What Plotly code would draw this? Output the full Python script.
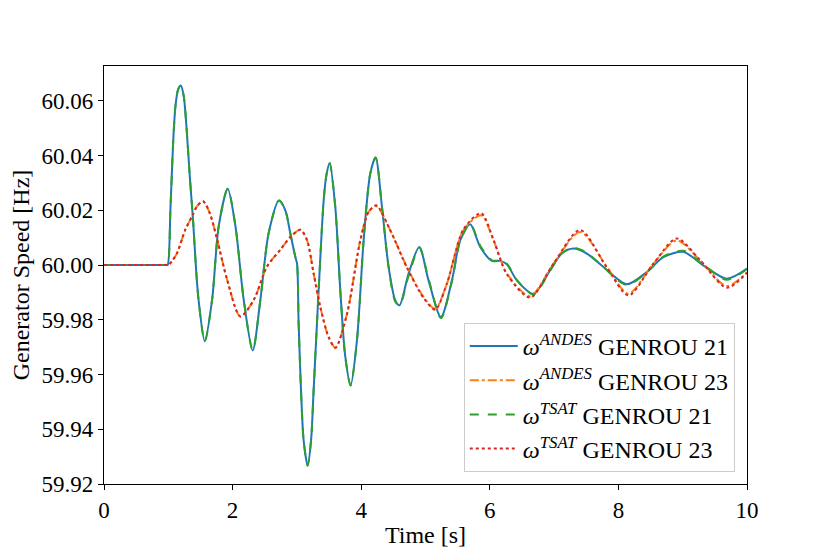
import plotly.graph_objects as go

# ---- data ----
t_gen21 = [0.0, 0.5, 0.9, 0.97, 0.99, 1.033, 1.075, 1.111, 1.153, 1.195, 1.24, 1.282, 1.334,
           1.386, 1.433, 1.474, 1.567, 1.681, 1.784, 1.924, 2.044, 2.173, 2.313, 2.432, 2.561,
           2.722, 2.82, 2.898, 2.976, 3.002, 3.027, 3.064, 3.105, 3.167, 3.22, 3.26, 3.338,
           3.416, 3.46, 3.509, 3.597, 3.675, 3.753, 3.835, 3.934, 4.038, 4.141, 4.224, 4.323,
           4.426, 4.53, 4.597, 4.737, 4.903, 5.047, 5.24, 5.411, 5.54, 5.695, 5.851, 6.033,
           6.162, 6.266, 6.42, 6.68, 6.939, 7.12, 7.30, 7.509, 7.767, 8.13, 8.44, 8.7, 9.01,
           9.32, 9.685, 10.0]
w_andes21 = [60.0, 60.0, 60.0, 60.0, 60.0, 60.0203, 60.0446, 60.058, 60.0642, 60.0656, 60.0617,
             60.0507, 60.0324, 60.016, 59.998, 59.9865, 59.9721, 59.9873, 60.0142, 60.0279,
             60.0142, 59.9873, 59.9688, 59.9873, 60.0117, 60.0236, 60.02, 60.0115, 60.0029,
             60.0005, 59.9786, 59.9542, 59.9359, 59.9267, 59.9359, 59.9542, 59.9907, 60.0235,
             60.033, 60.0373, 60.0212, 59.9907, 59.9664, 59.956, 59.9725, 60.009, 60.0334,
             60.0393, 60.0212, 59.9993, 59.9871, 59.9853, 59.9969, 60.0066, 59.9944, 59.981,
             59.9944, 60.009, 60.0149, 60.0066, 60.0015, 60.0015, 60.0003, 59.9944, 59.9895,
             59.9981, 60.0042, 60.006, 60.0042, 59.9993, 59.993, 59.9974, 60.0029, 60.0048,
             59.9999, 59.995, 59.9987]
w_tsat21 = [60.0, 60.0, 60.0, 60.0, 60.0, 60.0203, 60.0446, 60.058, 60.0642, 60.0656, 60.0617,
            60.0507, 60.0324, 60.016, 59.998, 59.9865, 59.9721, 59.9873, 60.0142, 60.0279,
            60.0142, 59.9873, 59.9688, 59.9873, 60.0117, 60.0236, 60.02, 60.0115, 60.0029,
            60.0005, 59.9786, 59.9542, 59.9359, 59.9267, 59.9359, 59.9542, 59.9907, 60.0235,
            60.033, 60.0373, 60.0212, 59.9907, 59.9664, 59.956, 59.9725, 60.009, 60.0334,
            60.0393, 60.0212, 59.9993, 59.9866, 59.9853, 59.9960, 60.0064, 59.9950, 59.9806,
            59.9940, 60.0088, 60.0151, 60.0070, 60.0017, 60.0016, 60.0004, 59.9946, 59.9892,
            59.9980, 60.0043, 60.0063, 60.0045, 59.9992, 59.9927, 59.9973, 60.0031, 60.0052,
            60.0001, 59.9946, 59.9985]

t_gen23 = [0.0, 0.5, 0.9, 0.97, 1.0, 1.06, 1.137, 1.266, 1.37, 1.448, 1.541, 1.644, 1.76,
           1.914, 2.121, 2.33, 2.536, 2.743, 2.898, 3.054, 3.158, 3.26, 3.364, 3.493, 3.6,
           3.78, 3.986, 4.115, 4.235, 4.452, 4.71, 4.97, 5.152, 5.333, 5.59, 5.866, 6.058,
           6.266, 6.628, 6.99, 7.405, 7.82, 8.156, 8.544, 8.907, 9.27, 9.685, 10.0]
w_andes23 = [60.0, 60.0, 60.0, 60.0, 60.0, 60.0015, 60.0044, 60.013, 60.0178, 60.0215, 60.0233,
             60.019, 60.0093, 59.9947, 59.9812, 59.9873, 59.9995, 60.0056, 60.0102, 60.0129,
             60.009, 59.9969, 59.9846, 59.9737, 59.9698, 59.9822, 60.009, 60.0194, 60.0215,
             60.0127, 59.9993, 59.9883, 59.984, 59.9932, 60.0127, 60.0182, 60.009, 59.9969,
             59.9886, 60.0005, 60.0121, 59.9993, 59.9895, 60.0005, 60.009, 60.0017, 59.9923,
             59.9974]
w_tsat23 = [60.0, 60.0, 60.0, 60.0, 60.0, 60.0015, 60.0044, 60.013, 60.0178, 60.0215, 60.0233,
            60.019, 60.0093, 59.9947, 59.9812, 59.9873, 59.9995, 60.0056, 60.0102, 60.0129,
            60.009, 59.9969, 59.9846, 59.9737, 59.9698, 59.9822, 60.009, 60.0194, 60.0218,
            60.0127, 59.9991, 59.9880, 59.9837, 59.9932, 60.0130, 60.0189, 60.0092, 59.9966,
            59.9881, 60.0005, 60.0128, 59.9991, 59.9889, 60.0005, 60.0097, 60.0018, 59.9917,
            59.9972]

series_names = ["<i>ω</i><sup><i>ANDES</i></sup> GENROU 21",
                "<i>ω</i><sup><i>ANDES</i></sup> GENROU 23",
                "<i>ω</i><sup><i>TSAT</i></sup> GENROU 21",
                "<i>ω</i><sup><i>TSAT</i></sup> GENROU 23"]

x_ticks = [0, 2, 4, 6, 8, 10]
y_ticks = [59.92, 59.94, 59.96, 59.98, 60.00, 60.02, 60.04, 60.06]

FONT = "Liberation Serif"

series = [
    (t_gen21, w_andes21, series_names[0], "#1f77b4", "solid"),
    (t_gen23, w_andes23, series_names[1], "#ff7f0e", "dashdot"),
    (t_gen21, w_tsat21, series_names[2], "#2ca02c", "dash"),
    (t_gen23, w_tsat23, series_names[3], "#d62728", "dot"),
]

fig = go.Figure()
for t, w, name, color, dash in series:
    fig.add_trace(go.Scatter(x=t, y=w, mode="lines", name=name,
                             line=dict(color=color, width=2, dash=dash,
                                       shape="spline", smoothing=0.8)))

axis_common = dict(showline=True, linecolor="black", linewidth=1.2, mirror=True,
                   ticks="outside", ticklen=5, tickwidth=1.2, tickcolor="black",
                   showgrid=False, zeroline=False, automargin=False,
                   tickfont=dict(family=FONT, size=23, color="black"))

fig.update_xaxes(range=[0, 10], tickvals=x_ticks, ticktext=[str(v) for v in x_ticks],
                 title=dict(text="Time [s]", font=dict(family=FONT, size=24, color="black"),
                            standoff=4),
                 **axis_common)
fig.update_yaxes(range=[59.92, 60.0727], tickvals=y_ticks,
                 ticktext=[f"{v:.2f}" for v in y_ticks],
                 title=dict(text="Generator Speed [Hz]",
                            font=dict(family=FONT, size=24, color="black"), standoff=8),
                 **axis_common)

# the page body adds an 8px offset, so the figure is 8px smaller and margins shifted
fig.update_layout(
    width=822, height=546,
    margin=dict(l=96, r=83, t=58, b=70),
    paper_bgcolor="white", plot_bgcolor="white",
    font=dict(family=FONT, size=24, color="black"),
    legend=dict(x=0.981, y=0.029, xanchor="right", yanchor="bottom",
                bgcolor="rgba(255,255,255,0.85)", bordercolor="#cccccc", borderwidth=1,
                font=dict(family=FONT, size=24, color="black"),
                itemwidth=48, tracegroupgap=0),
    showlegend=True,
)

fig.write_html("out.html")
